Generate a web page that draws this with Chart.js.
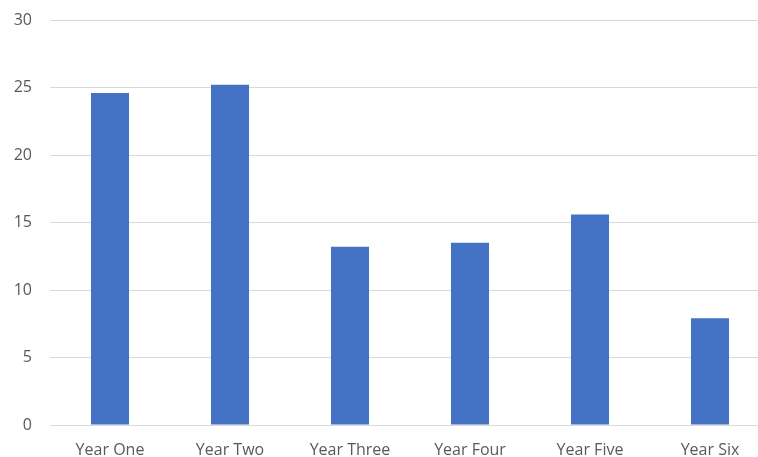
<!DOCTYPE html>
<html>
<head>
<meta charset="utf-8">
<script src="https://cdn.jsdelivr.net/npm/chart.js@4"></script>
<style>
    html, body { margin: 0; padding: 0; overflow: hidden; background: #fff; }
    #wrap { width: 758px; height: 457px; overflow: hidden; }
</style>
</head>
<body>
<div id="wrap"><canvas id="grafico" width="770" height="457"></canvas></div>
<script>
const anos = ['Year One', 'Year Two', 'Year Three', 'Year Four', 'Year Five', 'Year Six'];
const valores = [24.6, 25.2, 13.2, 13.5, 15.6, 7.9];
const yMin = 0;
const yMax = 30;
const yPasso = 5;

const ctx = document.getElementById('grafico').getContext('2d');

window.grafico = new Chart(ctx, {
    type: 'bar',
    data: {
        labels: anos,
        datasets: [{
            data: valores,
            backgroundColor: '#4472c4',
            categoryPercentage: 1,
            barPercentage: 0.317
        }]
    },
    options: {
        responsive: false,
        animation: false,
        layout: { padding: { top: 20, left: 0, right: 0, bottom: 0 } },
        plugins: {
            legend: { display: false },
            tooltip: { enabled: false }
        },
        scales: {
            x: {
                grid: { display: false, drawTicks: false },
                border: { display: true, color: '#d9d9d9', width: 1 },
                ticks: {
                    color: '#595959',
                    font: { family: 'Open Sans', size: 16 },
                    padding: 16,
                    maxRotation: 0
                },
                afterFit: scale => { scale.height = 32; }
            },
            y: {
                min: yMin,
                max: yMax,
                grid: { color: '#d9d9d9', drawTicks: false },
                border: { display: false },
                ticks: {
                    stepSize: yPasso,
                    color: '#595959',
                    font: { family: 'Open Sans', size: 16 },
                    padding: 18
                },
                afterFit: scale => {
                    scale.width = 50;
                    // sem folga extra em cima/embaixo
                    scale.paddingTop = 0;
                    scale.paddingBottom = 0;
                }
            }
        }
    }
});
</script>
</body>
</html>
